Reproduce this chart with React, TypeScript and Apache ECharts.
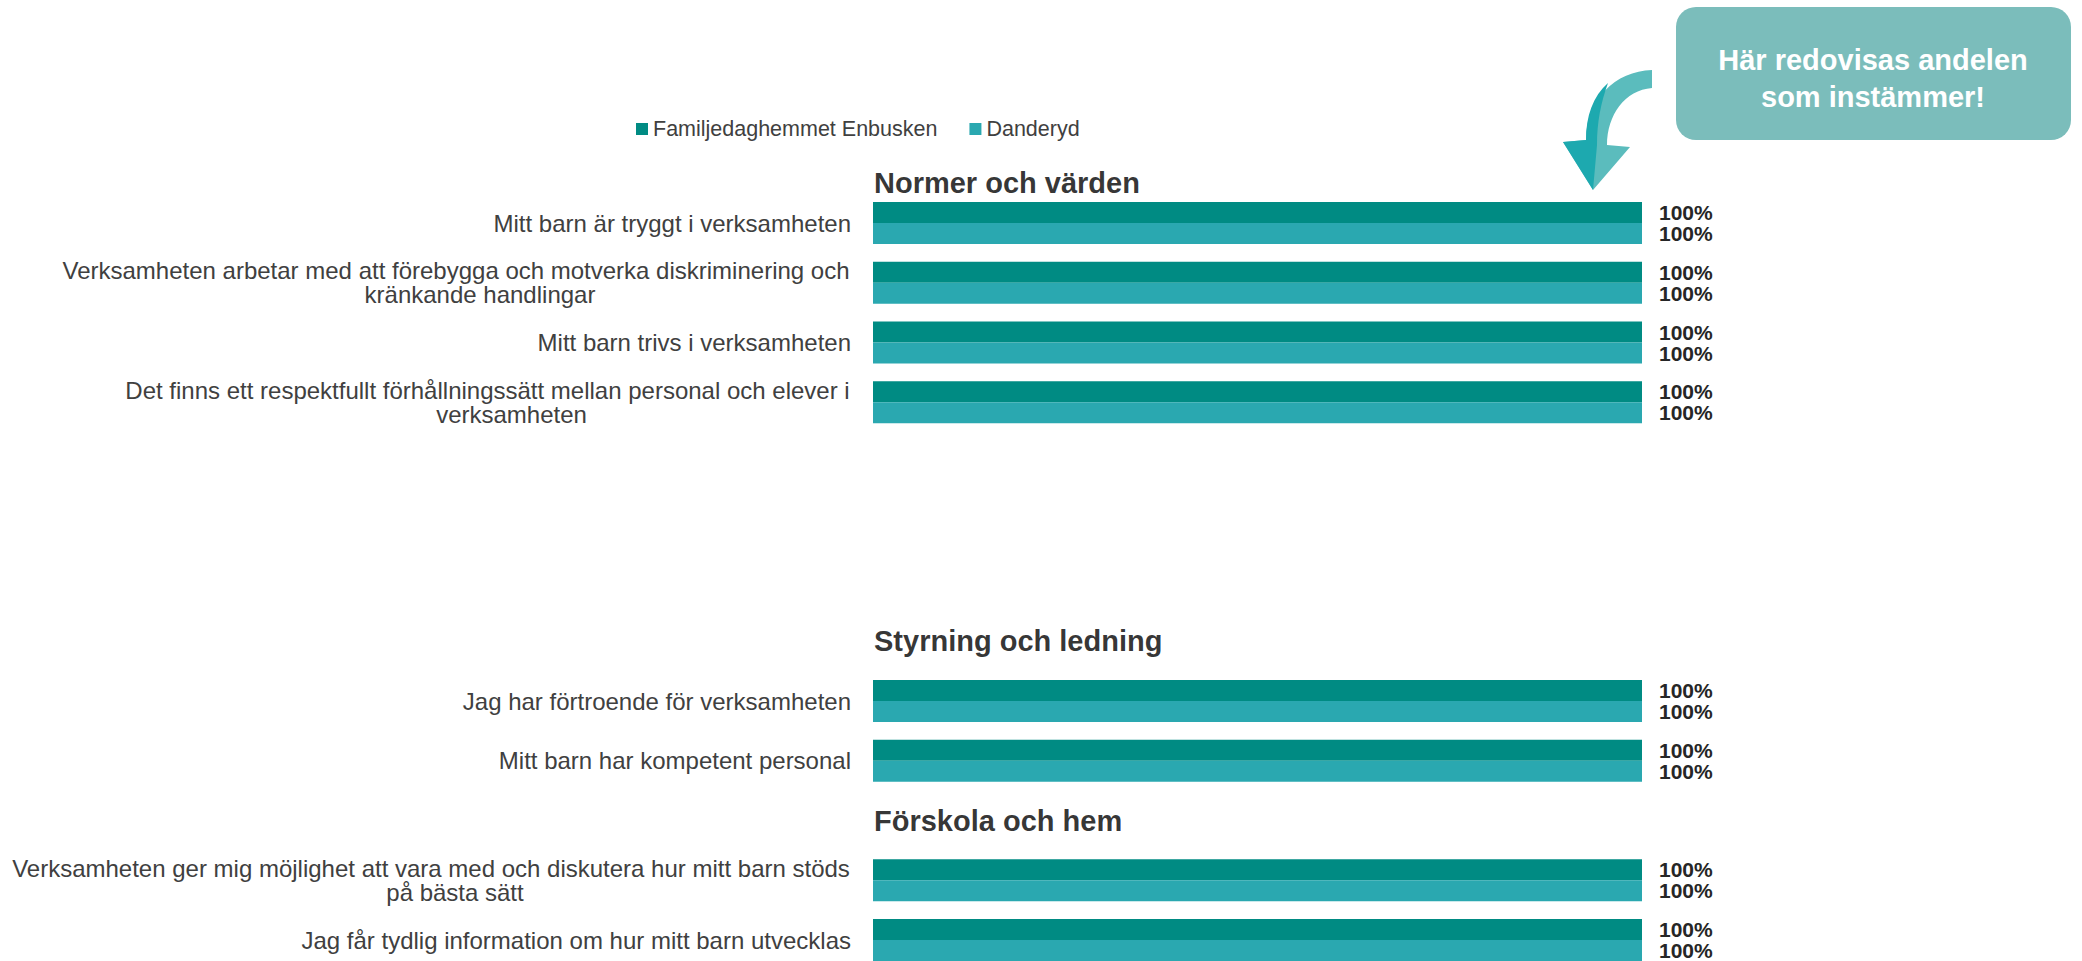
import React, { useEffect, useRef } from "react";
import * as echarts from "echarts";

const categories = [
  "Normer och värden",
  "Mitt barn är tryggt i verksamheten",
  "Verksamheten arbetar med att förebygga och motverka diskriminering och\nkränkande handlingar",
  "Mitt barn trivs i verksamheten",
  "Det finns ett respektfullt förhållningssätt mellan personal och elever i\nverksamheten",
  " ",
  "  ",
  "   ",
  "Styrning och ledning",
  "Jag har förtroende för verksamheten",
  "Mitt barn har kompetent personal",
  "Förskola och hem",
  "Verksamheten ger mig möjlighet att vara med och diskutera hur mitt barn stöds\npå bästa sätt",
  "Jag får tydlig information om hur mitt barn utvecklas",
];

const headers = ["Normer och värden", "Styrning och ledning", "Förskola och hem"];

const seriesNames = ["Familjedaghemmet Enbusken", "Danderyd"];

const enbusken = [null, 100, 100, 100, 100, null, null, null, null, 100, 100, null, 100, 100];
const danderyd = [null, 100, 100, 100, 100, null, null, null, null, 100, 100, null, 100, 100];

const calloutLines = ["Här redovisas andelen", "som instämmer!"];

const FONT = "'Liberation Sans', Arial, Helvetica, sans-serif";
const LABEL_SIZE = 24;
const SHIFT = 24;

const arrowFull =
  "M 1652 70 C 1615 71 1586 100 1586 140 L 1563 142 L 1593 190 L 1630 147 L 1607 145 C 1607 115 1625 90 1652 88 Z";
const arrowDark =
  "M 1608 83 C 1593 96 1586 116 1586 140 L 1563 142 L 1593 190 L 1597 145 C 1597 122 1601 102 1608 83 Z";

let registered = false;
function registerShapes() {
  if (registered) return;
  registered = true;
  echarts.graphic.registerShape("arrowFull", echarts.graphic.extendPath(arrowFull, {}));
  echarts.graphic.registerShape("arrowDark", echarts.graphic.extendPath(arrowDark, {}));
}

function measure(text: string): number {
  const c = document.createElement("canvas");
  const ctx = c.getContext("2d");
  if (!ctx) return text.length * 11;
  ctx.font = LABEL_SIZE + "px " + FONT;
  return ctx.measureText(text).width;
}

export default function App() {
  const ref = useRef<HTMLDivElement>(null);

  useEffect(() => {
    if (!ref.current) return;
    registerShapes();

    const rich: Record<string, any> = {};
    categories.forEach((cat, k) => {
      if (cat.indexOf("\n") < 0) return;
      const lines = cat.split("\n");
      const W = Math.ceil(Math.max(...lines.map(measure))) + 2;
      rich["a" + k] = { width: W, align: "center", fontSize: LABEL_SIZE, lineHeight: 24, color: "#404040", fontFamily: FONT };
      rich["b" + k] = {
        width: W - 2 * SHIFT,
        padding: [0, 0, 0, 2 * SHIFT],
        align: "center",
        fontSize: LABEL_SIZE,
        lineHeight: 24,
        color: "#404040",
        fontFamily: FONT,
      };
    });

    const chart = echarts.init(ref.current, null, { renderer: "svg" });
    const barLabel = {
      show: true,
      position: "right",
      distance: 17,
      formatter: "{c}%",
      fontSize: 21,
      fontWeight: "bold",
      color: "#262626",
      fontFamily: FONT,
    };
    chart.setOption({
      animation: false,
      backgroundColor: "#ffffff",
      textStyle: { fontFamily: FONT },
      legend: {
        data: seriesNames,
        left: 636,
        top: 118,
        padding: 0,
        icon: "rect",
        itemWidth: 12,
        itemHeight: 12,
        itemGap: 32,
        textStyle: { fontSize: 21.5, color: "#404040", fontFamily: FONT },
      },
      grid: { left: 873, right: 440, top: 133.4, bottom: 0, containLabel: false },
      xAxis: {
        type: "value",
        min: 0,
        max: 100,
        show: false,
      },
      yAxis: {
        type: "category",
        inverse: true,
        data: categories,
        axisLine: { show: false },
        axisTick: { show: false },
        splitLine: { show: false },
        axisLabel: {
          margin: 22,
          fontSize: LABEL_SIZE,
          color: "#404040",
          fontFamily: FONT,
          lineHeight: 24,
          formatter: (v: string) => {
            if (headers.indexOf(v) >= 0 || v.trim() === "") return "";
            const k = categories.indexOf(v);
            if (v.indexOf("\n") < 0) return v;
            const lines = v.split("\n");
            return "{a" + k + "|" + lines[0] + "}\n{b" + k + "|" + lines[1] + "}";
          },
          rich,
        },
      },
      series: [
        {
          name: seriesNames[0],
          type: "bar",
          data: enbusken,
          barWidth: 21,
          barGap: "0%",
          itemStyle: { color: "#008B83" },
          label: barLabel,
        },
        {
          name: seriesNames[1],
          type: "bar",
          data: danderyd,
          barWidth: 21,
          barGap: "0%",
          itemStyle: { color: "#2AA8B0" },
          label: barLabel,
        },
        {
          name: "headers",
          type: "scatter",
          symbolSize: 0,
          silent: true,
          data: headers.map((h, i) => ({
            value: [0, h],
            label: i === 0 ? { offset: [0, 20] } : {},
          })),
          label: {
            show: true,
            position: "right",
            distance: 1,
            formatter: (p: any) => p.value[1],
            fontSize: 29,
            fontWeight: "bold",
            color: "#000000",
            fontFamily: FONT,
          },
        },
      ],
      graphic: [
        {
          type: "rect",
          shape: { x: 1676, y: 7, width: 395, height: 133, r: 20 },
          style: { fill: "#7BBDBB" },
        },
        {
          type: "text",
          x: 1873,
          y: 60,
          style: {
            text: calloutLines[0],
            fill: "#ffffff",
            font: "bold 29px " + FONT,
            textAlign: "center",
            textVerticalAlign: "middle",
          },
        },
        {
          type: "text",
          x: 1873,
          y: 97,
          style: {
            text: calloutLines[1],
            fill: "#ffffff",
            font: "bold 29px " + FONT,
            textAlign: "center",
            textVerticalAlign: "middle",
          },
        },
        { type: "arrowFull", x: 0, y: 0, style: { fill: "#5BBCBD" } },
        { type: "arrowDark", x: 0, y: 0, style: { fill: "#1DA9AF" } },
      ],
    });
    return () => chart.dispose();
  }, []);

  return (
    <div
      ref={ref}
      style={{ position: "fixed", left: 0, top: 0, width: 2082, height: 970, background: "#fff" }}
    />
  );
}
